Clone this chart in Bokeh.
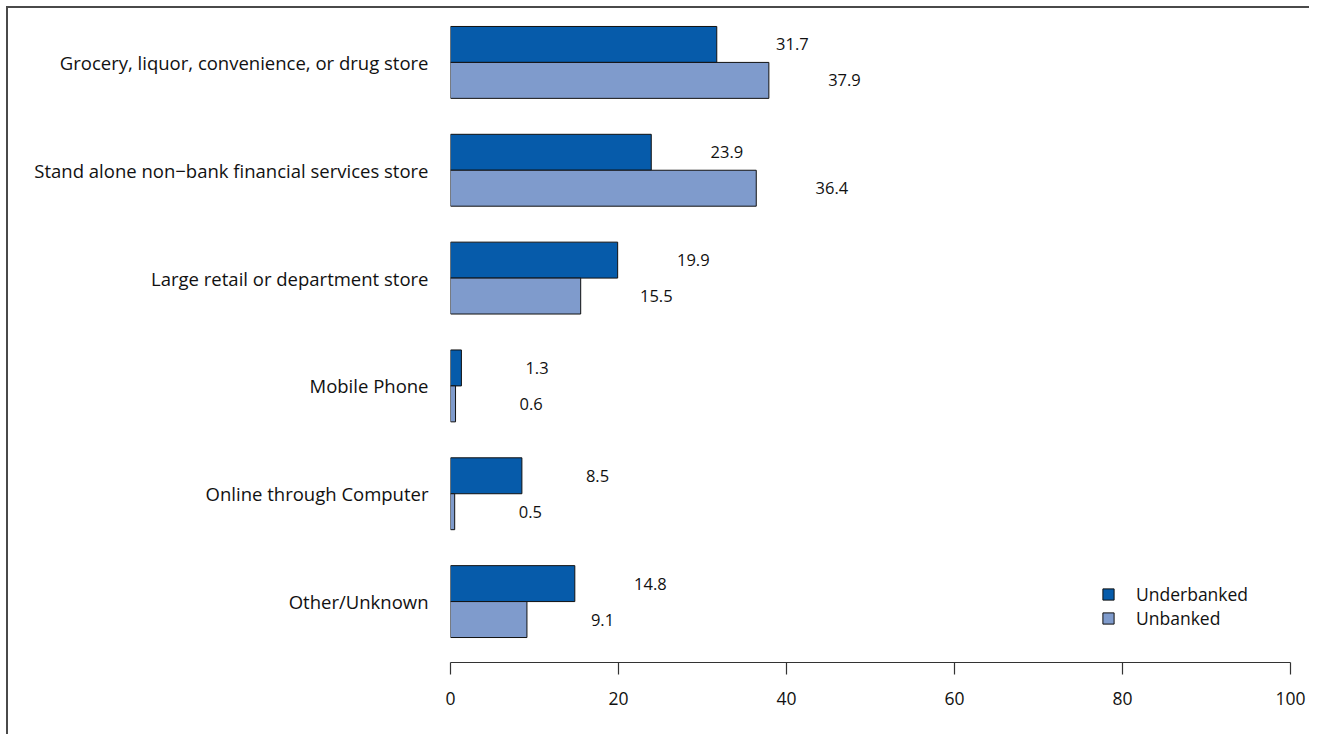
from bokeh.plotting import figure
from bokeh.models import Range1d, FixedTicker, Legend, LegendItem, ColumnDataSource
from bokeh.core.properties import value
from bokeh.embed import file_html
from bokeh.resources import INLINE

categories = [
    "Grocery, liquor, convenience, or drug store",
    "Stand alone non\u2212bank financial services store",
    "Large retail or department store",
    "Mobile Phone",
    "Online through Computer",
    "Other/Unknown",
]
underbanked = [31.7, 23.9, 19.9, 1.3, 8.5, 14.8]
unbanked = [37.9, 36.4, 15.5, 0.6, 0.5, 9.1]
series_names = ["Underbanked", "Unbanked"]
x_ticks = [0, 20, 40, 60, 80, 100]

FONT = "Open Sans"
DARK = "#065BAA"
LIGHT = "#7F9BCC"

n = len(categories)
ypos = [n - 1 - i for i in range(n)]
bar_h = 1 / 3

p = figure(width=1309, height=734, output_backend="svg", toolbar_location=None,
           x_range=Range1d(0, 100), y_range=Range1d(-0.565, n - 0.5),
           min_border_left=450, min_border_right=19, min_border_top=8, min_border_bottom=72)
# outer frame of the original figure: only its top and left edges fall inside the picture
p.styles = {
    "background-color": "white",
    "box-shadow": "inset 6px 6px 0 0 white, inset 8px 8px 0 0 #4a4a4a",
    "overflow": "hidden",
}
p.outline_line_color = None
p.grid.visible = False
p.background_fill_color = "white"
p.border_fill_alpha = 0

src1 = ColumnDataSource(dict(y=[v + bar_h / 2 for v in ypos], x=underbanked,
                             lx=[v + 9 for v in underbanked], lab=[f"{v:.1f}" for v in underbanked]))
src2 = ColumnDataSource(dict(y=[v - bar_h / 2 for v in ypos], x=unbanked,
                             lx=[v + 9 for v in unbanked], lab=[f"{v:.1f}" for v in unbanked]))

r1 = p.hbar(y="y", right="x", left=0, height=bar_h, source=src1, fill_color=DARK, line_color="#111111", line_width=1)
r2 = p.hbar(y="y", right="x", left=0, height=bar_h, source=src2, fill_color=LIGHT, line_color="#111111", line_width=1)

for s in (src1, src2):
    p.text(x="lx", y="y", text="lab", source=s, text_align="center", text_baseline="middle",
           text_font=value(FONT), text_font_size="16.5px", text_color="#111111")

# x axis
xa = p.xaxis[0]
xa.ticker = FixedTicker(ticks=x_ticks)
xa.axis_line_color = "#333333"
xa.axis_line_width = 1.2
xa.major_tick_line_color = "#333333"
xa.major_tick_line_width = 1.2
xa.major_tick_out = 12
xa.major_tick_in = 0
xa.minor_tick_line_color = None
xa.major_label_standoff = 17
xa.major_label_text_font = FONT
xa.major_label_text_font_size = "17.5px"
xa.major_label_text_color = "#111111"

# y axis
ya = p.yaxis[0]
ya.ticker = FixedTicker(ticks=ypos)
ya.major_label_overrides = {yv: c for yv, c in zip(ypos, categories)}
ya.axis_line_color = None
ya.major_tick_line_color = None
ya.minor_tick_line_color = None
ya.major_tick_out = 0
ya.major_tick_in = 0
ya.major_label_standoff = 22
ya.major_label_text_font = FONT
ya.major_label_text_font_size = "18.5px"
ya.major_label_text_color = "#111111"

legend = Legend(items=[LegendItem(label=series_names[0], renderers=[r1]),
                       LegendItem(label=series_names[1], renderers=[r2])],
                location=(651, 32), orientation="vertical")
legend.border_line_color = None
legend.background_fill_alpha = 0
legend.padding = 0
legend.margin = 0
legend.spacing = 0
legend.glyph_width = 14
legend.glyph_height = 14
legend.label_height = 20
legend.label_standoff = 21
legend.label_text_font = FONT
legend.label_text_font_size = "17.5px"
legend.label_text_color = "#111111"
legend.label_text_baseline = "middle"
p.add_layout(legend)

open("out.html", "w").write(file_html(p, INLINE))
